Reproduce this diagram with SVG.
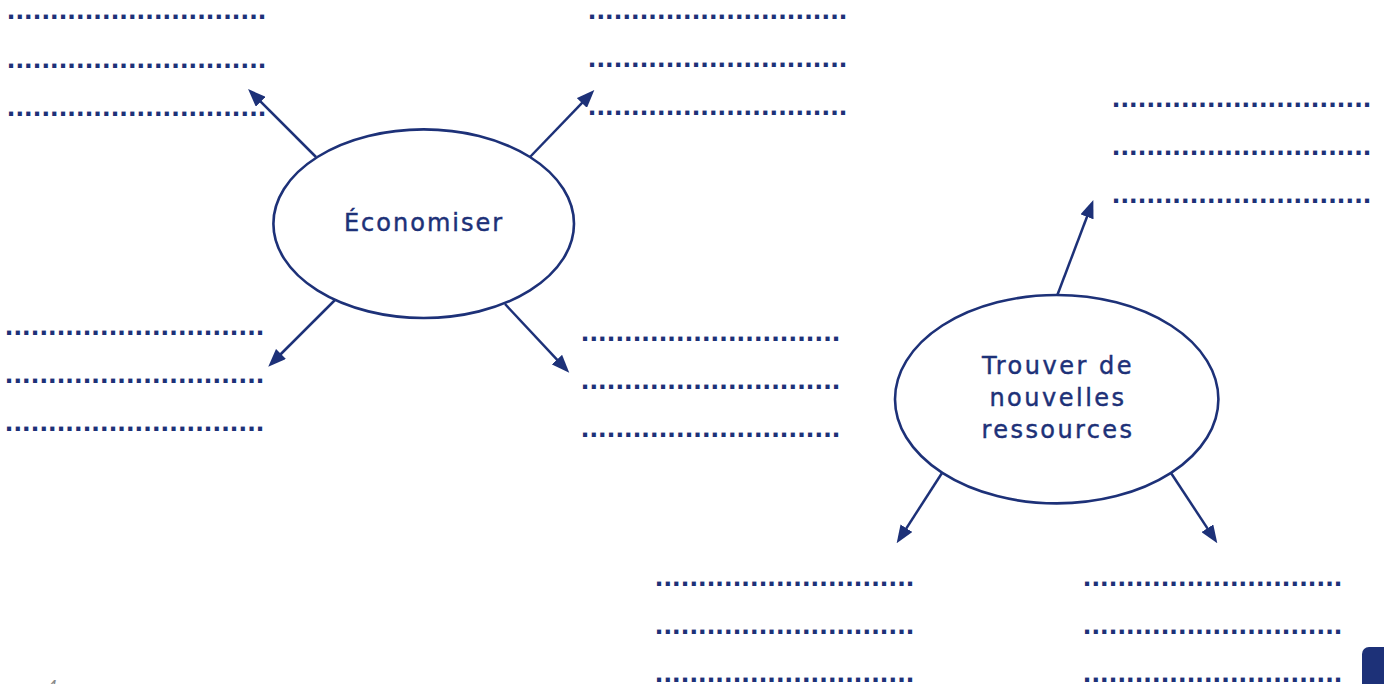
<svg xmlns="http://www.w3.org/2000/svg" width="1384" height="684" viewBox="0 0 1384 684">
<style>
  .dots { font-family: "Liberation Sans", Arial, sans-serif; font-weight: bold; font-size: 29px; letter-spacing: 0.6px; fill: #1d3178; }
  .node { fill: #ffffff; stroke: #1d3178; stroke-width: 2.6; }
  .label { font-family: "DejaVu Sans", "Open Sans", sans-serif; font-size: 24px; fill: #1d3178; stroke: #1d3178; stroke-width: 0.45; text-anchor: middle; }
  .conn { stroke: #1d3178; stroke-width: 2.5; fill: none; marker-end: url(#arrow); }
  .pagenum { font-family: "Liberation Sans", Arial, sans-serif; font-size: 17px; fill: #8a8a8a; font-style: italic; }
</style>
<defs>
  <marker id="arrow" markerUnits="userSpaceOnUse" viewBox="0 0 18 14" refX="10" refY="7" markerWidth="18" markerHeight="14" orient="auto">
    <path d="M0,0 L18,7 L0,14 z" fill="#1d3178"/>
  </marker>
</defs>
<rect width="1384" height="684" fill="#ffffff"/>

<g id="connectors">
  <line class="conn" x1="316" y1="157" x2="253.7" y2="94.7"/>
  <line class="conn" x1="530" y1="157" x2="588.8" y2="95.8"/>
  <line class="conn" x1="337" y1="298" x2="273.9" y2="361"/>
  <line class="conn" x1="505" y1="304" x2="563.8" y2="366.9"/>
  <line class="conn" x1="1057" y1="296" x2="1090.5" y2="207.5"/>
  <line class="conn" x1="942" y1="473" x2="901" y2="536.6"/>
  <line class="conn" x1="1171" y1="473" x2="1212.9" y2="536.6"/>
</g>

<g id="node-economiser">
  <ellipse class="node" cx="423.7" cy="223.7" rx="150.3" ry="94.3"/>
  <text class="label" x="424" y="231" letter-spacing="2">Économiser</text>
</g>

<g id="node-trouver">
  <ellipse class="node" cx="1056.7" cy="399.2" rx="161.7" ry="104.2"/>
  <text class="label" x="1058" y="374" letter-spacing="2.5">Trouver de</text>
  <text class="label" x="1058" y="406" letter-spacing="2.5">nouvelles</text>
  <text class="label" x="1058" y="438" letter-spacing="2.4">ressources</text>
</g>

<g id="dots-top-left">
  <text class="dots" x="7" y="19">..............................</text>
  <text class="dots" x="7" y="67.5">..............................</text>
  <text class="dots" x="7" y="115.5">..............................</text>
</g>
<g id="dots-top-middle">
  <text class="dots" x="588" y="18.5">..............................</text>
  <text class="dots" x="588" y="66.5">..............................</text>
  <text class="dots" x="588" y="115">..............................</text>
</g>
<g id="dots-top-right">
  <text class="dots" x="1112" y="106.5">..............................</text>
  <text class="dots" x="1112" y="154.5">..............................</text>
  <text class="dots" x="1112" y="202.5">..............................</text>
</g>
<g id="dots-mid-left">
  <text class="dots" x="5" y="334.5">..............................</text>
  <text class="dots" x="5" y="382.5">..............................</text>
  <text class="dots" x="5" y="430.5">..............................</text>
</g>
<g id="dots-mid-center">
  <text class="dots" x="581" y="340.5">..............................</text>
  <text class="dots" x="581" y="388.5">..............................</text>
  <text class="dots" x="581" y="437">..............................</text>
</g>
<g id="dots-bottom-middle">
  <text class="dots" x="655" y="586">..............................</text>
  <text class="dots" x="655" y="634">..............................</text>
  <text class="dots" x="655" y="682">..............................</text>
</g>
<g id="dots-bottom-right">
  <text class="dots" x="1083" y="586">..............................</text>
  <text class="dots" x="1083" y="634">..............................</text>
  <text class="dots" x="1083" y="682">..............................</text>
</g>

<text class="pagenum" x="47" y="692">4</text>
<rect x="1362" y="647" width="40" height="60" rx="7" fill="#1d3178"/>
</svg>
